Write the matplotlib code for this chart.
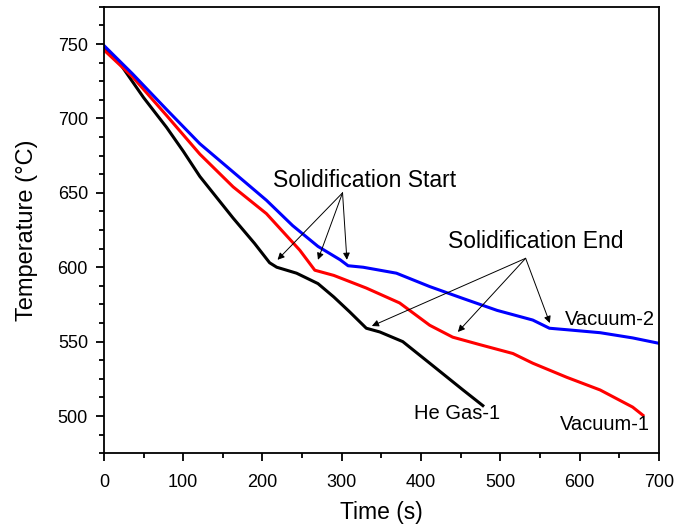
import matplotlib
matplotlib.use("Agg")
import matplotlib.pyplot as plt
from matplotlib.ticker import MultipleLocator, AutoMinorLocator

plt.rcParams['font.family'] = ['Liberation Sans', 'DejaVu Sans']

# readings taken off the reference curves (time s, temperature °C)
he_t = [0, 20, 50, 79, 100, 121, 163, 190, 209, 218, 243, 270, 290, 310, 331, 348, 377, 411, 453, 478]
he_T = [748, 737, 714, 694, 678, 661, 633, 616, 603, 600, 596, 589, 580, 570, 559, 556.5, 550, 535.5, 517.5, 507]

vac1_t = [0, 36, 79, 121, 163, 205, 247, 266, 290, 331, 373, 411, 440, 474, 516, 541, 584, 626, 667, 680]
vac1_T = [746, 728, 702, 676, 654, 636, 611.5, 598, 594.5, 586, 576, 561, 553, 548, 542, 535.5, 526, 517.5, 506, 500.5]

vac2_t = [0, 36, 79, 121, 163, 205, 238, 270, 298, 308, 327, 369, 411, 453, 496, 541, 562, 584, 626, 667, 699]
vac2_T = [749, 730, 706, 683, 664, 645, 628, 614, 605, 601, 600, 596, 587, 579, 571, 564.5, 559, 558, 556, 552.5, 549]

# where the annotation arrows point
start_pts = [(219, 605), (270, 605), (306.5, 605)]
end_pts = [(338, 560.5), (446.5, 556.5), (562.5, 562.5)]

fig = plt.figure(figsize=(6.75, 5.27), dpi=100)
ax = fig.add_axes([0.154, 0.140, 0.822, 0.847])

ax.plot(he_t, he_T, color='black', linewidth=2.2)
ax.plot(vac1_t, vac1_T, color='#FF0000', linewidth=2.2)
ax.plot(vac2_t, vac2_T, color='#0000FF', linewidth=2.2)

arrow = dict(arrowstyle='-|>', color='black', lw=0.7, mutation_scale=10, shrinkA=0, shrinkB=0)
for pt in start_pts:
    ax.annotate('', xy=pt, xytext=(301, 650), arrowprops=arrow)
for pt in end_pts:
    ax.annotate('', xy=pt, xytext=(532, 606), arrowprops=arrow)

ax.text(329, 658, 'Solidification Start', fontsize=16.5, ha='center', va='center')
ax.text(545, 617, 'Solidification End', fontsize=16.5, ha='center', va='center')
ax.text(638, 565, 'Vacuum-2', fontsize=14.5, ha='center', va='center')
ax.text(445, 502, 'He Gas-1', fontsize=14.5, ha='center', va='center')
ax.text(632, 494.5, 'Vacuum-1', fontsize=14.5, ha='center', va='center')

ax.set_xlim(0, 700)
ax.set_ylim(475, 775)
ax.xaxis.set_major_locator(MultipleLocator(100))
ax.xaxis.set_minor_locator(AutoMinorLocator(2))
ax.yaxis.set_major_locator(MultipleLocator(50))
ax.yaxis.set_minor_locator(AutoMinorLocator(4))
ax.tick_params(which='both', direction='out', top=False, right=False, width=1.3, labelsize=13)
ax.tick_params(which='major', length=6)
ax.tick_params(which='minor', length=3.5)
ax.tick_params(axis='x', which='major', pad=9)
ax.tick_params(axis='y', which='major', pad=5.5)
for s in ax.spines.values():
    s.set_linewidth(1.3)

ax.set_xlabel('Time (s)', fontsize=16.5, labelpad=7.5)
ax.set_ylabel('Temperature (°C)', fontsize=17, labelpad=14)

fig.savefig('out.png', dpi=100)
